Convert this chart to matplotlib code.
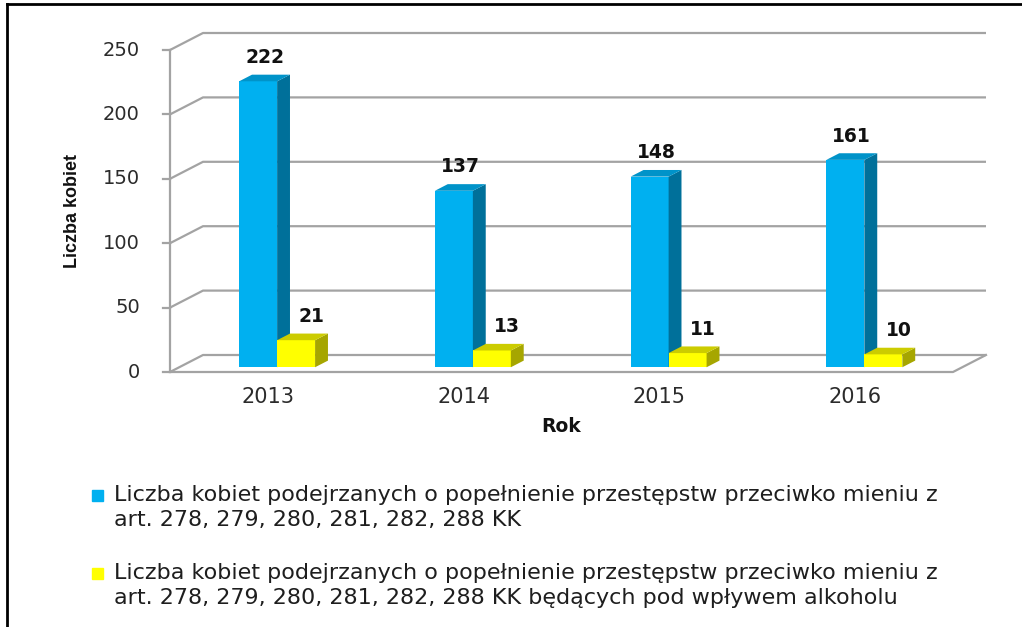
import matplotlib
matplotlib.use("Agg")
import matplotlib.pyplot as plt
from matplotlib.patches import Polygon, Rectangle
from matplotlib.lines import Line2D

# ---------------- data ----------------
categories = ['2013', '2014', '2015', '2016']
blue_values = [222, 137, 148, 161]
yellow_values = [21, 13, 11, 10]
y_ticks = [0, 50, 100, 150, 200, 250]
legend_blue = ["Liczba kobiet podejrzanych o popełnienie przestępstw przeciwko mieniu z",
               "art. 278, 279, 280, 281, 282, 288 KK"]
legend_yellow = ["Liczba kobiet podejrzanych o popełnienie przestępstw przeciwko mieniu z",
                 "art. 278, 279, 280, 281, 282, 288 KK będących pod wpływem alkoholu"]
x_title = "Rok"
y_title = "Liczba kobiet"

# ---------------- style / geometry ----------------
W, H = 1022, 627
PX_CAT = 195.75      # pixels per category
PX_VAL = 1.288       # pixels per value unit
DX = 33 / PX_CAT     # full depth offset (category units)
DY = 17 / PX_VAL     # full depth offset (value units)
F0, F1 = 0.28, 0.67  # bar depth span (fraction of full depth)
BW = 0.194           # bar width (category units)

GRID = '#a3a3a3'
BLUE = ('#00b0f0', '#0093c9', '#00709a')     # front, top, side
YELLOW = ('#ffff00', '#cccc00', '#a6a600')

fig = plt.figure(figsize=(W / 100, H / 100), dpi=100)
ax = fig.add_axes([170 / W, (H - 372) / H, 820 / W, 342 / H])
ax.set_xlim(0, 820 / PX_CAT)
ax.set_ylim(0, 342 / PX_VAL)
ax.axis('off')

n = len(categories)


def P(x, y, f):
    return (x + f * DX, y + f * DY)


# walls / gridlines
for v in y_ticks:
    pts = [P(0, v, 0), P(0, v, 1), P(n, v, 1)]
    ax.plot([p[0] for p in pts], [p[1] for p in pts], color=GRID, lw=1.6,
            clip_on=False, zorder=1, solid_capstyle='butt')
    ax.plot([-7 / PX_CAT, 0], [v, v], color=GRID, lw=1.6, clip_on=False, zorder=1)
    ax.text(-30 / PX_CAT, v, str(v), ha='right', va='center', fontsize=14,
            color='#2b2b2b', family='DejaVu Sans')

# front y axis
ax.plot([0, 0], [0, y_ticks[-1]], color=GRID, lw=1.6, clip_on=False, zorder=1)
# floor front + right edge
fl = [P(0, 0, 0), P(n, 0, 0), P(n, 0, 1)]
ax.plot([p[0] for p in fl], [p[1] for p in fl], color=GRID, lw=1.6,
        clip_on=False, zorder=1)


def draw_bars(values, offset, colors, label_dx):
    front, top, side = colors
    base = F0 * DY
    t = F1 - F0
    lefts = [i + 0.5 + offset + F0 * DX for i in range(n)]
    ax.bar(lefts, values, width=BW, bottom=base, align='edge', color=front,
           zorder=3, clip_on=False, linewidth=0)
    for xl, v in zip(lefts, values):
        xr = xl + BW
        sidep = [(xr, base), (xr, base + v), (xr + t * DX, base + v + t * DY),
                 (xr + t * DX, base + t * DY)]
        topp = [(xl, base + v), (xr, base + v), (xr + t * DX, base + v + t * DY),
                (xl + t * DX, base + v + t * DY)]
        ax.add_patch(Polygon(sidep, closed=True, color=side, zorder=3, lw=0, clip_on=False))
        ax.add_patch(Polygon(topp, closed=True, color=top, zorder=3, lw=0, clip_on=False))
        cx = (xl + xr + t * DX) / 2 + label_dx
        ax.text(cx, base + v + t * DY + 6, str(v), ha='center', va='bottom',
                fontsize=13.5, fontweight='bold', color='#111111',
                family='DejaVu Sans', zorder=5)


draw_bars(blue_values, -BW, BLUE, 0.0)
draw_bars(yellow_values, 0.0, YELLOW, 0.045)

# category labels
for i, c in enumerate(categories):
    ax.text(i + 0.5, -25 / PX_VAL, c, ha='center', va='center', fontsize=15,
            color='#2b2b2b', family='DejaVu Sans')

ax.text(n / 2, -55 / PX_VAL, x_title, ha='center', va='center', fontsize=13.5,
        fontweight='bold', color='#111111', family='DejaVu Sans')
ax.text(-97 / PX_CAT, 161 / PX_VAL, y_title, ha='center', va='center', rotation=90,
        fontsize=13, fontweight='bold', color='#111111', family='Liberation Sans')

# legend
def fy(py):
    return 1 - py / H


def legend_entry(lines, color, y1):
    fig.patches.append(Rectangle((92 / W, fy(y1 + 6)), 11 / W, 11 / H, color=color,
                                 transform=fig.transFigure, figure=fig))
    for k, line in enumerate(lines):
        fig.text(114 / W, fy(y1 + 24.5 * k), line, ha='left', va='center',
                 fontsize=16, color='#1e1e1e', family='DejaVu Sans')


legend_entry(legend_blue, BLUE[0], 495)
legend_entry(legend_yellow, YELLOW[0], 573)

# outer border (top and left)
fig.add_artist(Line2D([7 / W, 1021 / W], [fy(4), fy(4)], color='black', lw=2,
                      transform=fig.transFigure))
fig.add_artist(Line2D([7 / W, 7 / W], [fy(4), 0], color='black', lw=2,
                      transform=fig.transFigure))

fig.savefig('out.png', dpi=100)
